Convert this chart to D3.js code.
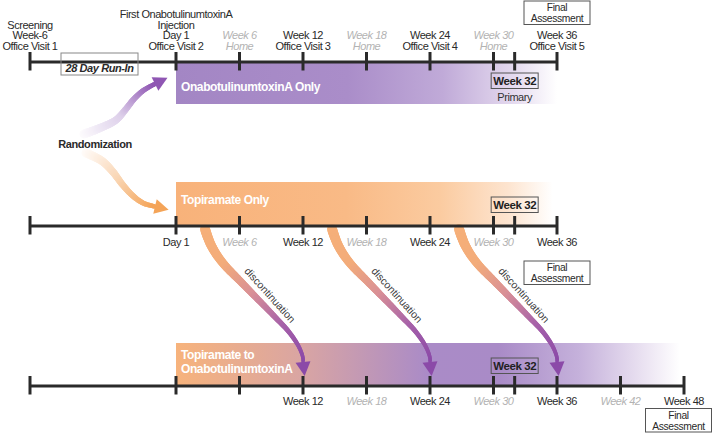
<!DOCTYPE html>
<html><head><meta charset="utf-8">
<script src="https://cdn.jsdelivr.net/npm/d3@7"></script>
<style>
html,body{margin:0;padding:0;background:#fff;}
svg{display:block;font-family:"Liberation Sans",Arial,Helvetica,sans-serif;}
</style></head>
<body>
<svg id="chart" width="716" height="433"></svg>
<script>
// ---------- data ----------
const armNames = ["OnabotulinumtoxinA Only", "Topiramate Only", "Topiramate to|OnabotulinumtoxinA"];
const armTicks = [
  [-6, 0, 6, 12, 18, 24, 30, 32, 36],
  [-6, 0, 6, 12, 18, 24, 30, 32, 36],
  [-6, 0, 6, 12, 18, 24, 30, 32, 36, 42, 48]
];
const topLabelWeeks = [-6, 0, 6, 12, 18, 24, 30, 36];
const topLabels = [
  ["Screening", "Week-6", "Office Visit 1"],
  ["First OnabotulinumtoxinA", "Injection", "Day 1", "Office Visit 2"],
  ["Week 6", "Home"],
  ["Week 12", "Office Visit 3"],
  ["Week 18", "Home"],
  ["Week 24", "Office Visit 4"],
  ["Week 30", "Home"],
  ["Week 36", "Office Visit 5"]
];
const topHome = [false, false, true, false, true, false, true, false];
const arm2LabelWeeks = [0, 6, 12, 18, 24, 30, 36];
const arm2Labels = ["Day 1", "Week 6", "Week 12", "Week 18", "Week 24", "Week 30", "Week 36"];
const arm3LabelWeeks = [12, 18, 24, 30, 36, 42, 48];
const arm3Labels = ["Week 12", "Week 18", "Week 24", "Week 30", "Week 36", "Week 42", "Week 48"];
const homeWeeks = [6, 18, 30, 42];
const primaryWeek = 32;
const finalWeeks = [36, 36, 48];
const discontinuationWeeks = [12, 24, 36];

// ---------- setup ----------
const svg = d3.select("#chart");
const x = d3.scaleLinear().domain([-6, 0, 48]).range([30, 176, 684]);
const lineY = [62, 226, 386];
const dark = "#2a2a2a", grey = "#b3b3b3";
const defs = svg.append("defs");

function grad(id, stops) {
  const g = defs.append("linearGradient").attr("id", id).attr("x1", 0).attr("x2", 1).attr("y1", 0).attr("y2", 0);
  stops.forEach(s => g.append("stop").attr("offset", s[0]).attr("stop-color", s[1]));
}
grad("g1", [[0, "#a386c4"], [0.45, "#aa8dc9"], [0.7, "#c0aad8"], [0.88, "#e3d8ee"], [1, "#ffffff"]]);
grad("g2", [[0, "#f8b27a"], [0.45, "#f9ba86"], [0.7, "#fbcba0"], [0.88, "#fde4cf"], [1, "#ffffff"]]);
grad("g3", [[0, "#f7b37c"], [0.25, "#d9a5a3"], [0.5, "#aa8bc7"], [0.64, "#a98bc7"], [0.8, "#c5b1db"], [0.93, "#ebe3f2"], [1, "#ffffff"]]);

// ---------- arm boxes ----------
const boxes = [
  {y0: 63, y1: 104, xEnd: 36, fill: "url(#g1)"},
  {y0: 182, y1: 226, xEnd: 35.6, fill: "url(#g2)"},
  {y0: 343, y1: 386, xEnd: 47.6, fill: "url(#g3)"}
];
boxes.forEach(b => {
  svg.append("rect").attr("x", x(0)).attr("y", b.y0)
    .attr("width", x(b.xEnd) - x(0)).attr("height", b.y1 - b.y0).attr("fill", b.fill);
});
const armLabelY = [[91], [204], [359, 372.5]];
armNames.forEach((n, i) => {
  n.split("|").forEach((t, j) => {
    svg.append("text").attr("x", x(0) + 5).attr("y", armLabelY[i][j]).text(t)
      .attr("fill", "#fff").attr("font-weight", "bold").attr("font-size", 12)
      .attr("letter-spacing", -0.4);
  });
});

// ---------- tapered curved arrows ----------
function taper(pts, w0, w1, colors, n, head) {
  const line = d3.line().curve(d3.curveCatmullRom.alpha(0.5));
  const p = svg.append("path").attr("d", line(pts)).attr("fill", "none");
  const node = p.node(), L = node.getTotalLength();
  const s = d3.range(n + 1).map(i => node.getPointAtLength(L * i / n));
  p.remove();
  const col = d3.scaleLinear().domain(colors.map((c, i) => i / (colors.length - 1))).range(colors).interpolate(d3.interpolateRgb);
  const g = svg.append("g");
  for (let i = 0; i < n; i++) {
    const t = i / (n - 1);
    g.append("line").attr("x1", s[i].x).attr("y1", s[i].y).attr("x2", s[i + 1].x).attr("y2", s[i + 1].y)
      .attr("stroke", col(t)).attr("stroke-width", w0 + (w1 - w0) * t).attr("stroke-linecap", "round");
  }
  if (head) {
    const a = s[n], b = s[n - 4];
    const dx = a.x - b.x, dy = a.y - b.y, d = Math.hypot(dx, dy);
    const ux = dx / d, uy = dy / d;
    const tip = [a.x + ux * head.len, a.y + uy * head.len];
    const l = [a.x - uy * head.hw, a.y + ux * head.hw], r = [a.x + uy * head.hw, a.y - ux * head.hw];
    g.append("path").attr("d", `M${l}L${tip}L${r}Z`).attr("fill", colors[colors.length - 1]);
  }
}
// randomization arrows
taper([[84, 134], [100, 128], [116, 120], [126, 109], [134, 99], [144, 90], [155, 84]], 9, 4.5,
  ["#fcfafd", "#ddd0ea", "#8f56b3"], 60, {len: 14, hw: 7.5});
taper([[86, 153], [102, 161], [113, 172], [122, 184], [132, 195], [143, 203], [155, 206.5]], 9, 4.5,
  ["#fffbf8", "#f9d5b3", "#f4a458"], 60, {len: 14, hw: 7.5});

// discontinuation arrows
discontinuationWeeks.forEach(w => {
  const xe = x(w);
  const pts = [[-98, 229], [-92, 245], [-81, 262], [-60, 284], [-28, 317], [-14, 332], [-4, 347], [0, 358], [0, 362]]
    .map(p => [xe + p[0], p[1]]);
  taper(pts, 10, 3.5, ["#f6b079", "#f3ac7a", "#d88f97", "#a762a9", "#8b4aa8"], 90, {len: 14, hw: 7.5});
  svg.append("text").attr("transform", `translate(${xe - 33},${295}) rotate(48)`)
    .attr("text-anchor", "middle").attr("dy", "0.35em").attr("font-size", 10.5)
    .attr("fill", "#3a3a3a").text("discontinuation");
});

// ---------- timelines ----------
armTicks.forEach((ticks, i) => {
  const y = lineY[i];
  const g = svg.append("g");
  g.append("line").attr("x1", x(d3.min(ticks))).attr("x2", x(d3.max(ticks))).attr("y1", y).attr("y2", y)
    .attr("stroke", dark).attr("stroke-width", 3);
  g.selectAll("line.t").data(ticks).join("line").attr("class", "t")
    .attr("x1", d => x(d)).attr("x2", d => x(d)).attr("y1", y - 10).attr("y2", y + 8.5)
    .attr("stroke", dark).attr("stroke-width", 3);
});

// top labels
topLabelWeeks.forEach((w, i) => {
  const lines = topLabels[i];
  lines.forEach((t, j) => {
    svg.append("text").attr("x", x(w)).attr("y", 50 - (lines.length - 1 - j) * 10.6)
      .attr("text-anchor", "middle").attr("font-size", 11).attr("letter-spacing", -0.45)
      .attr("fill", topHome[i] ? grey : dark).attr("font-style", topHome[i] ? "italic" : "normal").text(t);
  });
});
function tickLabels(weeks, labels, y) {
  svg.append("g").selectAll("text").data(weeks).join("text")
    .attr("x", d => x(d)).attr("y", y).attr("text-anchor", "middle").attr("font-size", 11)
    .attr("letter-spacing", -0.45)
    .attr("fill", d => homeWeeks.includes(d) ? grey : dark)
    .attr("font-style", d => homeWeeks.includes(d) ? "italic" : "normal")
    .text((d, i) => labels[i]);
}
tickLabels(arm2LabelWeeks, arm2Labels, 246);
tickLabels(arm3LabelWeeks, arm3Labels, 405);

// Week 32 boxes
const w32Y = [73, 197, 358];
w32Y.forEach(y => {
  svg.append("rect").attr("x", x(primaryWeek) - 23.5).attr("y", y).attr("width", 47).attr("height", 15.5)
    .attr("fill", "none").attr("stroke", "#555").attr("stroke-width", 1);
  svg.append("text").attr("x", x(primaryWeek)).attr("y", y + 12).attr("text-anchor", "middle")
    .attr("font-size", 11.5).attr("font-weight", "bold").attr("letter-spacing", -0.4).attr("fill", "#222").text("Week 32");
});
svg.append("text").attr("x", x(primaryWeek)).attr("y", 100.5).attr("text-anchor", "middle")
  .attr("font-size", 11).attr("letter-spacing", -0.45).attr("fill", "#333").text("Primary");

// Final assessment boxes
const finalY = [1, 261, 408.5];
const finalDx = [0, 0, -5.5];
finalWeeks.forEach((w, i) => {
  const cx = x(w) + finalDx[i];
  svg.append("rect").attr("x", cx - 33).attr("y", finalY[i]).attr("width", 66).attr("height", 23.5)
    .attr("fill", "#fff").attr("stroke", "#555").attr("stroke-width", 1);
  ["Final", "Assessment"].forEach((t, j) => {
    svg.append("text").attr("x", cx).attr("y", finalY[i] + 10 + j * 11.3).attr("text-anchor", "middle")
      .attr("font-size", 10.3).attr("letter-spacing", -0.35).attr("fill", dark).text(t);
  });
});

// Run-in box
svg.append("rect").attr("x", 61).attr("y", 53).attr("width", 77).attr("height", 22)
  .attr("fill", "none").attr("stroke", "#888").attr("stroke-width", 1);
svg.append("text").attr("x", 99.5).attr("y", 72).attr("text-anchor", "middle").attr("font-size", 11)
  .attr("font-weight", "bold").attr("font-style", "italic").attr("letter-spacing", -0.4).attr("fill", dark).text("28 Day Run-In");

// Randomization
svg.append("text").attr("x", 95).attr("y", 148).attr("text-anchor", "middle").attr("font-size", 11)
  .attr("font-weight", "bold").attr("letter-spacing", -0.4).attr("fill", dark).text("Randomization");
</script>
</body></html>
